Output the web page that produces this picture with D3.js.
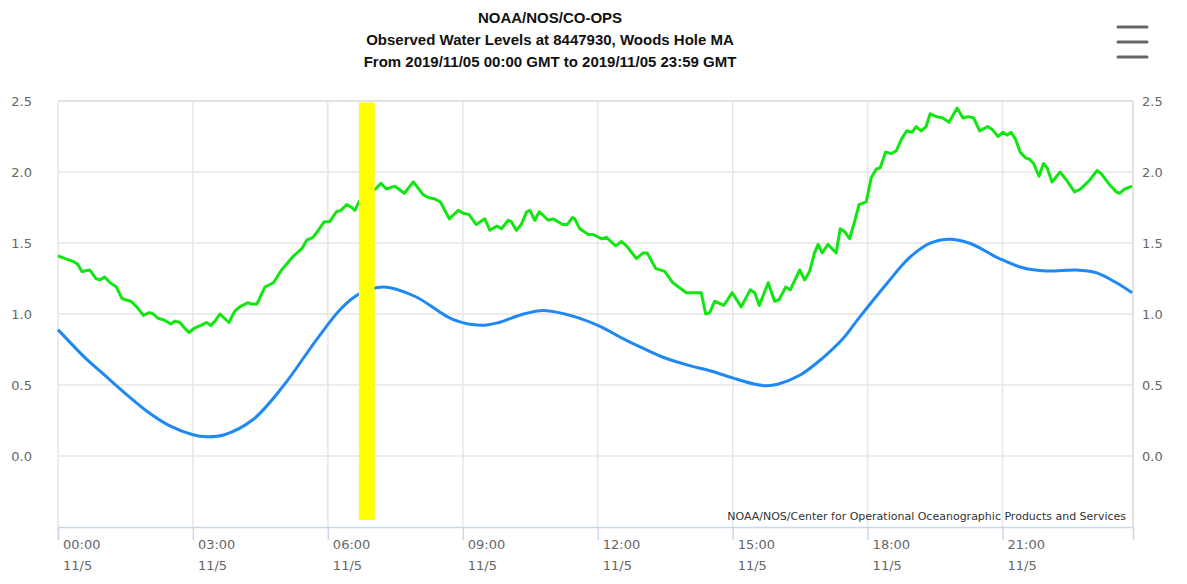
<!DOCTYPE html>
<html>
<head>
<meta charset="utf-8">
<script src="https://cdn.jsdelivr.net/npm/d3@7"></script>
<style>
  body { margin: 0; background: #fff; }
  svg { display: block; }
</style>
</head>
<body>
<div class="main"></div>
<script>
// observed water level (green): hour of day, metres
const obsHours = [0.00,0.16,0.34,0.44,0.53,0.71,0.84,0.93,1.04,1.16,1.30,1.42,1.50,1.62,1.75,1.90,2.03,2.12,2.22,2.34,
  2.51,2.60,2.71,2.82,2.91,3.03,3.18,3.30,3.40,3.49,3.60,3.70,3.80,3.93,4.04,4.16,4.22,4.30,4.42,4.60,
  4.79,4.97,5.08,5.21,5.42,5.53,5.67,5.79,5.92,6.04,6.19,6.29,6.42,6.53,6.60,6.69,6.85,7.06,7.18,7.30,
  7.49,7.70,7.90,8.12,8.23,8.38,8.50,8.70,8.90,9.01,9.14,9.30,9.49,9.60,9.76,9.86,10.01,10.08,10.19,10.30,
  10.42,10.49,10.60,10.70,10.90,11.01,11.22,11.32,11.44,11.49,11.60,11.79,11.90,12.08,12.19,12.40,12.53,12.64,12.86,13.01,
  13.10,13.29,13.49,13.67,13.97,14.30,14.40,14.49,14.60,14.80,14.99,15.19,15.39,15.49,15.59,15.79,15.93,16.03,16.18,16.28,
  16.49,16.60,16.71,16.82,16.90,16.99,17.12,17.30,17.39,17.49,17.60,17.71,17.81,17.97,18.08,18.19,18.28,18.40,18.53,18.64,
  18.75,18.87,18.99,19.08,19.19,19.30,19.39,19.53,19.67,19.81,19.99,20.12,20.24,20.36,20.49,20.67,20.77,20.90,21.01,21.10,
  21.19,21.29,21.39,21.51,21.60,21.69,21.81,21.91,21.99,22.10,22.28,22.45,22.60,22.73,22.93,23.10,23.19,23.38,23.53,23.60,
  23.71,23.88];
const obsLevels = [1.41,1.39,1.37,1.35,1.30,1.31,1.25,1.24,1.26,1.22,1.19,1.11,1.10,1.09,1.05,0.99,1.01,1.00,0.97,0.96,
  0.93,0.95,0.94,0.90,0.87,0.90,0.92,0.94,0.92,0.95,1.00,0.97,0.94,1.02,1.05,1.07,1.08,1.07,1.07,1.19,
  1.22,1.31,1.35,1.40,1.46,1.52,1.54,1.59,1.65,1.65,1.72,1.73,1.77,1.75,1.73,1.79,1.85,1.88,1.92,1.88,
  1.90,1.85,1.93,1.84,1.82,1.81,1.79,1.67,1.73,1.71,1.70,1.63,1.67,1.59,1.62,1.60,1.66,1.65,1.59,1.63,
  1.72,1.73,1.66,1.72,1.66,1.67,1.63,1.63,1.68,1.67,1.60,1.56,1.56,1.53,1.54,1.48,1.51,1.48,1.39,1.43,
  1.43,1.32,1.30,1.22,1.15,1.15,1.00,1.01,1.09,1.06,1.15,1.05,1.17,1.15,1.06,1.22,1.09,1.10,1.19,1.17,
  1.31,1.24,1.30,1.43,1.49,1.43,1.49,1.43,1.60,1.58,1.53,1.65,1.77,1.79,1.96,2.02,2.03,2.14,2.13,2.15,
  2.23,2.29,2.28,2.32,2.29,2.32,2.41,2.39,2.38,2.35,2.45,2.38,2.39,2.38,2.29,2.32,2.30,2.25,2.28,2.26,
  2.28,2.23,2.14,2.10,2.09,2.06,1.97,2.06,2.03,1.93,2.00,1.93,1.86,1.88,1.94,2.01,1.99,1.91,1.86,1.85,
  1.88,1.90];

// predicted tide (blue)
const predHours = [0,0.64,1.0,1.5,2.0,2.5,3.0,3.3,3.7,4.33,5.0,5.75,6.3,6.69,7.23,
  7.93,8.79,9.4,9.8,10.3,10.8,11.5,12.04,12.56,13.0,13.5,14.0,14.5,15.0,15.5,15.75,
  16.0,16.5,17.0,17.45,17.81,18.41,18.93,19.38,19.82,20.27,20.93,21.45,21.97,22.64,23.08,23.53,23.88];
const predLevels = [0.89,0.68,0.58,0.44,0.31,0.21,0.15,0.136,0.15,0.255,0.49,0.82,1.04,1.14,1.19,
  1.125,0.96,0.92,0.94,0.995,1.025,0.98,0.914,0.827,0.76,0.69,0.64,0.60,0.55,0.505,0.495,
  0.505,0.57,0.69,0.825,0.973,1.208,1.397,1.498,1.527,1.498,1.39,1.326,1.303,1.31,1.291,1.22,1.15];

const xTicks = [0, 3, 6, 9, 12, 15, 18, 21];
const yTicks = [0.0, 0.5, 1.0, 1.5, 2.0, 2.5];
const highlightHours = [6.69, 7.04];
const titleLines = [
  "NOAA/NOS/CO-OPS",
  "Observed Water Levels at 8447930, Woods Hole MA",
  "From 2019/11/05 00:00 GMT to 2019/11/05 23:59 GMT"
];
const credit = "NOAA/NOS/Center for Operational Oceanographic Products and Services";

const width = 1187, height = 584;
const plotLeft = 58, plotRight = 1133, plotTop = 101, plotBottom = 527;

const svg = d3.select(".main").append("svg")
  .attr("width", width).attr("height", height)
  .style("font-family", "'DejaVu Sans', sans-serif");

svg.append("rect").attr("width", width).attr("height", height).attr("fill", "#fff");

const x = d3.scaleLinear().domain([0, 23.9]).range([plotLeft, plotRight]);
const y = d3.scaleLinear().domain([-0.5, 2.5]).range([plotBottom, plotTop]);

// grid
svg.append("g").selectAll("line").data(yTicks).enter().append("line")
  .attr("x1", plotLeft).attr("x2", plotRight)
  .attr("y1", d => y(d)).attr("y2", d => y(d))
  .attr("stroke", d => d === 2.5 ? "#d8d8d8" : "#e6e6e6")
  .attr("stroke-width", 1.5);

svg.append("g").selectAll("line").data(xTicks).enter().append("line")
  .attr("x1", d => x(d)).attr("x2", d => x(d))
  .attr("y1", plotTop).attr("y2", plotBottom)
  .attr("stroke", "#e6e6e6").attr("stroke-width", 1.5);

// right border
svg.append("line")
  .attr("x1", plotRight).attr("x2", plotRight).attr("y1", plotTop).attr("y2", plotBottom)
  .attr("stroke", "#d8d8d8").attr("stroke-width", 1.5);

// bottom axis
const xAxis = d3.axisBottom(x).tickValues(xTicks).tickSize(13).tickFormat("");
const gx = svg.append("g").attr("transform", `translate(0,${plotBottom})`).call(xAxis);
gx.select(".domain").attr("stroke", "#ccd6eb").attr("stroke-width", 1.5);
gx.selectAll(".tick line").attr("stroke", "#ccd6eb").attr("stroke-width", 1.5);

const xLab = svg.append("g").selectAll("text").data(xTicks).enter().append("text")
  .attr("x", d => x(d) + 5)
  .attr("fill", "#666").attr("font-size", 13);
xLab.append("tspan").attr("y", 549).text(d => String(d).padStart(2, "0") + ":00");
xLab.append("tspan").attr("x", d => x(d) + 5).attr("y", 570).text("11/5");

// y labels both sides
svg.append("g").selectAll("text").data(yTicks).enter().append("text")
  .attr("x", 32).attr("y", d => y(d) + 5)
  .attr("text-anchor", "end")
  .attr("fill", "#666").attr("font-size", 13)
  .text(d => d.toFixed(1));
svg.append("g").selectAll("text").data(yTicks).enter().append("text")
  .attr("x", 1142).attr("y", d => y(d) + 5)
  .attr("fill", "#666").attr("font-size", 13)
  .text(d => d.toFixed(1));

// lines
const predLine = d3.line()
  .x((d, i) => x(predHours[i]))
  .y(d => y(d))
  .curve(d3.curveCatmullRom.alpha(0.5));
svg.append("path").datum(predLevels)
  .attr("d", predLine)
  .attr("fill", "none").attr("stroke", "#1e88f5").attr("stroke-width", 3);

const obsLine = d3.line()
  .x((d, i) => x(obsHours[i]))
  .y(d => y(d));
svg.append("path").datum(obsLevels)
  .attr("d", obsLine)
  .attr("fill", "none").attr("stroke", "#11e611").attr("stroke-width", 3)
  .attr("stroke-linejoin", "round");

// highlight band
svg.append("rect")
  .attr("x", x(highlightHours[0]))
  .attr("width", x(highlightHours[1]) - x(highlightHours[0]))
  .attr("y", y(2.49))
  .attr("height", y(-0.45) - y(2.49))
  .attr("fill", "#ffff00");

// credit
svg.append("text")
  .attr("x", 1126).attr("y", 520)
  .attr("text-anchor", "end")
  .attr("fill", "#333").attr("font-size", 11)
  .text(credit);

// title
svg.append("g").selectAll("text").data(titleLines).enter().append("text")
  .attr("x", 550).attr("y", (d, i) => 23 + i * 22)
  .attr("text-anchor", "middle")
  .attr("font-family", "'Liberation Sans', Arial, sans-serif")
  .attr("font-weight", "bold").attr("font-size", 15)
  .attr("fill", "#111")
  .text(d => d);

// menu button
svg.append("g").selectAll("line").data([27, 42, 57]).enter().append("line")
  .attr("x1", 1118).attr("x2", 1147)
  .attr("y1", d => d).attr("y2", d => d)
  .attr("stroke", "#666").attr("stroke-width", 3).attr("stroke-linecap", "round");
</script>
</body>
</html>
